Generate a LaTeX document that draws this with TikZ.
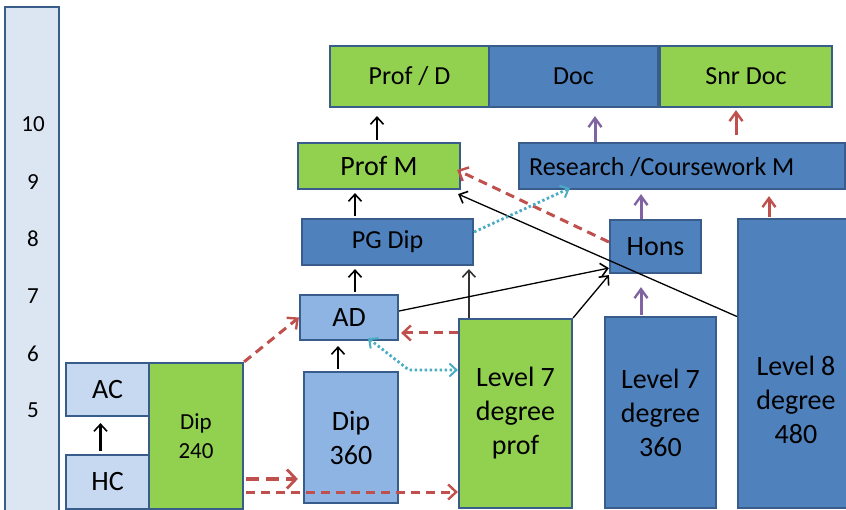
\documentclass[tikz,border=0pt]{standalone}
\usepackage{fontspec}
\setmainfont{Carlito}
\usetikzlibrary{arrows.meta,calc}

\definecolor{lvgreen}{HTML}{92D050}
\definecolor{lvblue}{HTML}{4F81BD}
\definecolor{lvmid}{HTML}{8EB4E3}
\definecolor{lvpale}{HTML}{C6D9F1}
\definecolor{lvscale}{HTML}{DCE6F2}
\definecolor{lvedge}{HTML}{385D8A}
\definecolor{lvred}{HTML}{C0504D}
\definecolor{lvpurple}{HTML}{8064A2}
\definecolor{lvcyan}{HTML}{4BACC6}

\newcommand{\fbig}{\fontsize{28}{34}\selectfont}
\newcommand{\fmid}{\fontsize{26}{31}\selectfont}
\newcommand{\fsml}{\fontsize{23}{29}\selectfont}

\tikzset{
  box/.style={draw=lvedge, line width=2.2pt, inner sep=0pt, align=center},
  greenbox/.style={box, fill=lvgreen},
  bluebox/.style={box, fill=lvblue},
  midbox/.style={box, fill=lvmid},
  palebox/.style={box, fill=lvpale},
  plain/.style={inner sep=0pt, align=center},
  barb/.style={-{Straight Barb[length=7pt,width=13pt,line width=1.6pt]}},
  upblack/.style={barb, draw=black, line width=2.2pt},
  thinblack/.style={barb, draw=black, line width=1.3pt},
  reddash/.style={-{Straight Barb[length=8pt,width=15pt,line width=2.4pt]}, draw=lvred, line width=3pt, dash pattern=on 9pt off 6pt},
  redthick/.style={-{Straight Barb[length=9pt,width=19pt,line width=2.8pt]}, draw=lvred, line width=4.6pt, dash pattern=on 13pt off 7pt},
  cyandot/.style={draw=lvcyan, line width=2.8pt, dash pattern=on 2.5pt off 2.5pt},
  cyantip/.tip={Straight Barb[length=7pt,width=13pt,line width=2pt]},
  purpleup/.style={-{Straight Barb[length=9pt,width=13pt,line width=2.4pt]}, draw=lvpurple, line width=3pt},
  redup/.style={-{Straight Barb[length=9pt,width=13pt,line width=2.4pt]}, draw=lvred, line width=3pt},
}

\begin{document}
\begin{tikzpicture}[x=1pt, y=-1pt]
\useasboundingbox (0,0) rectangle (846,510);
\fill[white] (0,0) rectangle (846,510);

% level scale
\node[box, fill=lvscale, minimum width=54pt, minimum height=520pt] (scale) at (32,267) {};
\foreach \lv/\yy in {10/124, 9/182, 8/239, 7/296, 6/354, 5/410}
  \node[plain, font=\fsml] (lv\lv) at (33,\yy) {\lv};

% sub-degree qualifications
\node[palebox, minimum width=83pt, minimum height=53pt, font=\fbig] (ac) at (107.5,389.5) {AC};
\node[palebox, minimum width=83pt, minimum height=54pt, font=\fbig] (hc) at (107.5,482) {HC};
\node[greenbox, minimum width=94pt, minimum height=146pt, font=\fsml] (dip240) at (196,436) {Dip\\240};
\node[midbox, minimum width=98pt, minimum height=45pt, font=\fbig] (ad) at (349,317.5) {AD};
\node[midbox, minimum width=94pt, minimum height=131pt, font=\fbig] (dip360) at (351,437.5) {Dip\\360};

% degrees
\node[greenbox, minimum width=113pt, minimum height=189pt, font=\fbig] (l7prof) at (515.5,413.5) {Level 7\\degree\\prof};
\node[bluebox, minimum width=111pt, minimum height=191pt, font=\fbig] (l7) at (660.5,412.5) {Level 7\\degree\\360};
\node[bluebox, minimum width=116pt, minimum height=289pt] (l8) at (796,363.5) {};
\node[plain, font=\fbig] (l8text) at (796,400) {Level 8\\degree\\480};
\node[bluebox, minimum width=91pt, minimum height=53pt, font=\fbig] (hons) at (655.5,246.5) {Hons};

% postgraduate
\node[bluebox, minimum width=171pt, minimum height=46pt, font=\fmid] (pgdip) at (387.5,242) {PG Dip};
\node[greenbox, minimum width=162pt, minimum height=46pt, font=\fbig] (profm) at (379,166) {Prof M};
\node[bluebox, minimum width=326pt, minimum height=46pt] (research) at (682,166) {};
\node[plain, anchor=west, font=\fmid] (researchtext) at ([xshift=11pt,yshift=-1pt]research.west) {Research /Coursework M};

% doctorates
\node[greenbox, minimum width=159pt, minimum height=61pt, font=\fmid] (profd) at (409.5,76.5) {Prof / D};
\node[bluebox, minimum width=169pt, minimum height=61pt, font=\fmid] (doc) at (573.5,76.5) {Doc};
\node[greenbox, minimum width=172pt, minimum height=61pt, font=\fmid] (snrdoc) at (746,76.5) {Snr Doc};

% vertical progression arrows
\draw[upblack] ([xshift=-7pt,yshift=3pt]hc.north) -- ([xshift=-7pt,yshift=-6pt]hc.north |- ac.south);
\draw[upblack, line width=2.8pt] ([xshift=-13pt,yshift=2pt]dip360.north) -- ([xshift=-13pt,yshift=-5pt]dip360.north |- ad.south);
\draw[upblack] ([xshift=6pt,yshift=2pt]ad.north) -- ([xshift=6pt,yshift=-3pt]ad.north |- pgdip.south);
\draw[upblack] ([xshift=-32.5pt,yshift=2pt]pgdip.north) -- ([xshift=-32.5pt,yshift=-3pt]pgdip.north |- profm.south);
\draw[upblack] ([xshift=-2pt,yshift=2pt]profm.north) -- ([xshift=-2pt,yshift=-8pt]profm.north |- profd.south);
\draw[thinblack, draw=black!80, line width=1.8pt] ([xshift=11pt]l7prof.north west) -- ([xshift=11pt,yshift=-3pt]l7prof.north west |- pgdip.south);

% thin cross links
\draw[thinblack] ([yshift=6.5pt]ad.east) -- ([yshift=6pt]hons.south west);
\draw[thinblack] (l7prof.north east) -- ([yshift=-1pt]hons.south west);
\draw[thinblack] ([yshift=47pt]l8.west) -- ([xshift=-3pt,yshift=-4pt]profm.south east);

% dashed and dotted links
\draw[reddash] ([yshift=4.5pt]hons.west) -- ([xshift=-4pt,yshift=-4pt]profm.east);
\draw[cyandot, -cyantip] ([yshift=10pt]pgdip.east) -- ([xshift=52pt,yshift=2pt]research.south west);
\coordinate (bend) at ([xshift=-49pt,yshift=43.5pt]l7prof.west);
\draw[cyandot, cyantip-cyantip]
  ([xshift=19pt,yshift=3pt]ad.south) -- (bend) -- ([yshift=43.5pt]l7prof.west);
\coordinate (l7profa) at ([yshift=80.5pt]l7prof.west);
\draw[reddash] (l7profa) -- ([xshift=2pt]ad.east |- l7profa);
\draw[reddash] (dip240.north east) -- (ad.west);
\coordinate (dipa) at ([xshift=2pt,yshift=-43pt]dip240.east);
\draw[redthick] (dipa) -- ([xshift=-5pt]dip360.west |- dipa);
\coordinate (dipb) at ([xshift=2pt,yshift=-56pt]dip240.east);
\draw[reddash] (dipb) -- (l7prof.west |- dipb);

% coloured progression arrows
\draw[purpleup] ([xshift=-87pt]research.north) -- ([xshift=-87pt,yshift=-8pt]research.north |- doc.south);
\draw[redup] ([xshift=54pt,yshift=7pt]research.north) -- ([xshift=54pt,yshift=-2pt]research.north |- snrdoc.south);
\draw[purpleup] ([xshift=-14.5pt]hons.north) -- ([xshift=-14.5pt,yshift=-4pt]hons.north |- research.south);
\draw[purpleup] ([xshift=-19.5pt,yshift=1pt]l7.north) -- ([xshift=-19.5pt,yshift=-13pt]l7.north |- hons.south);
\draw[redup] ([xshift=-27pt,yshift=1pt]l8.north) -- ([xshift=-27pt,yshift=-6pt]l8.north |- research.south);
\end{tikzpicture}
\end{document}
